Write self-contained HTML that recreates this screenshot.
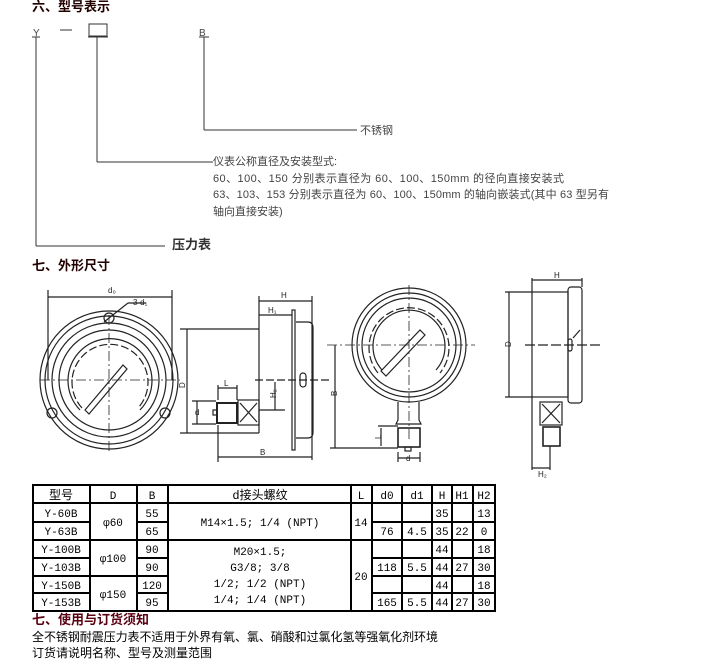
<!DOCTYPE html>
<html><head><meta charset="utf-8"><style>
html,body{margin:0;padding:0;background:#fff;}
svg{display:block;}
.cj{font-family:"Liberation Sans","Noto Sans CJK SC",sans-serif;}
</style></head><body>
<svg width="714" height="666" viewBox="0 0 714 666" xmlns="http://www.w3.org/2000/svg" class="cj">
<!-- section 6 -->
<text x="32" y="11" font-size="13" font-weight="bold" fill="#220000">六、型号表示</text>
<g fill="none" stroke="#333" stroke-width="1">
<line x1="32" y1="37" x2="40" y2="37"/><line x1="36" y1="37" x2="36" y2="246"/><line x1="36" y1="246" x2="165" y2="246"/>
<line x1="60" y1="30" x2="72" y2="30"/>
<rect x="89" y="24" width="18" height="12"/><line x1="88" y1="37" x2="108" y2="37"/>
<line x1="97" y1="37" x2="97" y2="162"/><line x1="97" y1="162" x2="213" y2="162"/>
<line x1="199" y1="37" x2="209" y2="37"/><line x1="204" y1="37" x2="204" y2="130"/><line x1="204" y1="130" x2="357" y2="130"/>
</g>
<text x="33" y="36" font-size="10" fill="#444">Y</text>
<text x="199" y="36" font-size="10" fill="#444">B</text>
<text x="360" y="134" font-size="11" fill="#444">不锈钢</text>
<text x="213" y="165" font-size="11" fill="#444">仪表公称直径及安装型式:</text>
<text x="213" y="182" font-size="11" fill="#444" textLength="351">60、100、150 分别表示直径为 60、100、150mm 的径向直接安装式</text>
<text x="213" y="198" font-size="11" fill="#444" textLength="396">63、103、153 分别表示直径为 60、100、150mm 的轴向嵌装式(其中 63 型另有</text>
<text x="213" y="215" font-size="11" fill="#444">轴向直接安装)</text>
<text x="172" y="249" font-size="13" font-weight="bold" fill="#333">压力表</text>
<text x="32" y="270" font-size="13" font-weight="bold" fill="#220000">七、外形尺寸</text>

<!-- drawings -->
<g fill="none" stroke="#222" stroke-width="1.2">
<!-- left front gauge -->
<circle cx="109" cy="380" r="69"/><circle cx="109" cy="380" r="64"/><circle cx="109" cy="380" r="57"/><circle cx="109" cy="380" r="50"/>
<path d="M82 408 A38 38 0 1 1 138 408" stroke-dasharray="8 3"/>
<path d="M80 410 A42 42 0 1 1 140 410"/>
<circle cx="109" cy="318" r="5"/><circle cx="52" cy="413" r="5"/><circle cx="165" cy="413" r="5"/>
<line x1="40" y1="380" x2="180" y2="380" stroke-dasharray="10 3 2 3" stroke-width="0.8"/>
<line x1="109" y1="315" x2="109" y2="452" stroke-dasharray="10 3 2 3" stroke-width="0.8"/>
<polygon points="85,410 123,365 127,369 89,414"/>
<line x1="48" y1="290" x2="48" y2="380"/><line x1="172" y1="290" x2="172" y2="380"/>
<line x1="48" y1="297" x2="172" y2="297"/>
<line x1="104" y1="322" x2="128" y2="303"/><line x1="128" y1="303" x2="146" y2="303"/>
<!-- left side view -->
<line x1="259" y1="328" x2="259" y2="433"/>
<line x1="180" y1="329" x2="259" y2="329"/><line x1="180" y1="433" x2="259" y2="433"/>
<line x1="187" y1="329" x2="187" y2="433"/>
<rect x="292" y="310" width="3" height="140"/>
<path d="M296 322 H308 Q313 322 313 328 V432 Q313 438 308 438 H296"/>
<line x1="259" y1="296" x2="259" y2="328"/><line x1="312" y1="296" x2="312" y2="460"/>
<line x1="259" y1="301" x2="312" y2="301"/><line x1="259" y1="315" x2="292" y2="315"/>
<rect x="300" y="373" width="6" height="14" rx="3"/>
<line x1="255" y1="380" x2="330" y2="380" stroke-dasharray="8 3"/>
<rect x="238" y="400" width="21" height="25"/><line x1="240" y1="403" x2="257" y2="422"/><line x1="257" y1="403" x2="240" y2="422"/>
<rect x="217" y="403" width="20" height="20" stroke-width="2"/><rect x="213" y="410" width="4" height="5"/>
<line x1="259" y1="410" x2="285" y2="410"/>
<line x1="275" y1="382" x2="275" y2="410"/>
<line x1="218" y1="388" x2="237" y2="388"/><line x1="218" y1="385" x2="218" y2="400"/><line x1="237" y1="385" x2="237" y2="400"/>
<line x1="197" y1="401" x2="197" y2="424"/><line x1="192" y1="401" x2="216" y2="401"/><line x1="192" y1="424" x2="216" y2="424"/>
<line x1="218" y1="425" x2="218" y2="462"/><line x1="218" y1="457" x2="312" y2="457"/>
<!-- right front gauge -->
<circle cx="409" cy="345" r="57"/><circle cx="409" cy="345" r="52"/><circle cx="409" cy="345" r="47"/>
<path d="M378 373 A40 40 0 1 1 440 373" stroke-dasharray="8 3"/>
<path d="M382 370 A36 36 0 1 1 436 370"/>
<polygon points="381,371 420,330 425,335 386,376"/>
<line x1="327" y1="345" x2="475" y2="345" stroke-dasharray="10 3 2 3" stroke-width="0.8"/>
<line x1="409" y1="285" x2="409" y2="440" stroke-dasharray="10 3 2 3" stroke-width="0.8"/>
<path d="M398 402 V420 L396 424 H421 L419 420 V402"/>
<rect x="398" y="428" width="22" height="19" stroke-width="1.6"/><rect x="405" y="447" width="6" height="4"/>
<line x1="335" y1="345" x2="335" y2="448"/><line x1="330" y1="448" x2="398" y2="448"/>
<line x1="381" y1="428" x2="381" y2="446"/><line x1="378" y1="426" x2="398" y2="426"/>
<line x1="398" y1="452" x2="398" y2="462"/><line x1="420" y1="452" x2="420" y2="462"/><line x1="398" y1="458" x2="420" y2="458"/>
<!-- right side view -->
<rect x="532" y="292" width="36" height="105"/>
<rect x="568" y="287" width="14" height="116" rx="3"/>
<line x1="532" y1="278" x2="532" y2="292"/><line x1="582" y1="278" x2="582" y2="287"/><line x1="532" y1="280" x2="582" y2="280"/>
<line x1="505" y1="292" x2="532" y2="292"/><line x1="505" y1="397" x2="532" y2="397"/><line x1="509" y1="292" x2="509" y2="397"/>
<line x1="525" y1="345" x2="600" y2="345" stroke-dasharray="10 3"/>
<rect x="568" y="339" width="4" height="12" rx="2"/><line x1="573" y1="338" x2="580" y2="330"/>
<rect x="540" y="402" width="22" height="23"/><line x1="542" y1="404" x2="560" y2="423"/><line x1="560" y1="404" x2="542" y2="423"/>
<rect x="543" y="427" width="17" height="19" stroke-width="1.6"/>
<line x1="532" y1="397" x2="532" y2="470"/><line x1="550" y1="446" x2="550" y2="470"/><line x1="532" y1="468" x2="550" y2="468"/>
</g>
<g font-size="8" fill="#222" font-family="Liberation Sans,sans-serif">
<text x="108" y="293">d₀</text><text x="133" y="305">3-d₁</text>
<text x="281" y="298">H</text><text x="268" y="313">H₁</text>
<text x="182" y="385" transform="rotate(-90 185 385)">D</text>
<text x="224" y="386">L</text><text x="195" y="415">d</text>
<text x="270" y="400" transform="rotate(-90 272 396)">H₂</text>
<text x="260" y="455">B</text>
<text x="333" y="400" transform="rotate(-90 333 396)">B</text>
<text x="376" y="440" transform="rotate(-90 378 437)">L</text>
<text x="406" y="461">d</text>
<text x="554" y="278">H</text>
<text x="505" y="347" transform="rotate(-90 508 344)">D</text>
<text x="538" y="477">H₂</text>
</g>

<!-- table -->
<g stroke="#000" stroke-width="2" fill="none">
<rect x="33" y="485" width="462" height="126"/>
<line x1="90" y1="485" x2="90" y2="611"/><line x1="137" y1="485" x2="137" y2="611"/><line x1="168" y1="485" x2="168" y2="611"/>
<line x1="351" y1="485" x2="351" y2="611"/><line x1="372" y1="485" x2="372" y2="611"/><line x1="402" y1="485" x2="402" y2="611"/>
<line x1="432" y1="485" x2="432" y2="611"/><line x1="452" y1="485" x2="452" y2="611"/><line x1="473" y1="485" x2="473" y2="611"/>
<line x1="33" y1="503" x2="495" y2="503"/>
<line x1="33" y1="540" x2="495" y2="540"/>
<line x1="33" y1="522" x2="90" y2="522"/><line x1="137" y1="522" x2="168" y2="522"/><line x1="372" y1="522" x2="495" y2="522"/>
<line x1="33" y1="558" x2="90" y2="558"/><line x1="137" y1="558" x2="168" y2="558"/><line x1="372" y1="558" x2="495" y2="558"/>
<line x1="33" y1="576" x2="168" y2="576"/><line x1="372" y1="576" x2="495" y2="576"/>
<line x1="33" y1="593" x2="90" y2="593"/><line x1="137" y1="593" x2="168" y2="593"/><line x1="372" y1="593" x2="495" y2="593"/>
</g>
<g font-size="11" fill="#000" text-anchor="middle" font-family="Liberation Mono,Noto Sans CJK SC,monospace">
<text x="61" y="499" font-size="12">型号</text><text x="113" y="499">D</text><text x="152" y="499">B</text><text x="260" y="499" font-size="12">d接头螺纹</text>
<text x="361" y="499">L</text><text x="387" y="499">d0</text><text x="417" y="499">d1</text><text x="442" y="499">H</text><text x="462" y="499">H1</text><text x="484" y="499">H2</text>
<text x="61" y="517">Y-60B</text><text x="61" y="535">Y-63B</text><text x="61" y="553">Y-100B</text><text x="61" y="571">Y-103B</text><text x="61" y="589">Y-150B</text><text x="61" y="606">Y-153B</text>
<text x="113" y="526">φ60</text><text x="113" y="562">φ100</text><text x="113" y="598">φ150</text>
<text x="152" y="517">55</text><text x="152" y="535">65</text><text x="152" y="553">90</text><text x="152" y="571">90</text><text x="152" y="589">120</text><text x="152" y="606">95</text>
<text x="260" y="526">M14×1.5; 1/4 (NPT)</text>
<text x="260" y="555">M20×1.5;</text><text x="260" y="571">G3/8; 3/8</text><text x="260" y="587">1/2; 1/2 (NPT)</text><text x="260" y="603">1/4; 1/4 (NPT)</text>
<text x="361" y="526">14</text><text x="361" y="580">20</text>
<text x="387" y="535">76</text><text x="417" y="535">4.5</text>
<text x="387" y="571">118</text><text x="417" y="571">5.5</text>
<text x="387" y="606">165</text><text x="417" y="606">5.5</text>
<text x="442" y="517">35</text><text x="442" y="535">35</text><text x="442" y="553">44</text><text x="442" y="571">44</text><text x="442" y="589">44</text><text x="442" y="606">44</text>
<text x="462" y="535">22</text><text x="462" y="571">27</text><text x="462" y="606">27</text>
<text x="484" y="517">13</text><text x="484" y="535">0</text><text x="484" y="553">18</text><text x="484" y="571">30</text><text x="484" y="589">18</text><text x="484" y="606">30</text>
</g>
<text x="32" y="624" font-size="13" font-weight="bold" fill="#5a0010">七、使用与订货须知</text>
<text x="32" y="641" font-size="12" fill="#000" textLength="406">全不锈钢耐震压力表不适用于外界有氧、氯、硝酸和过氯化氢等强氧化剂环境</text>
<text x="32" y="657" font-size="12" fill="#000">订货请说明名称、型号及测量范围</text>
</svg>
</body></html>
